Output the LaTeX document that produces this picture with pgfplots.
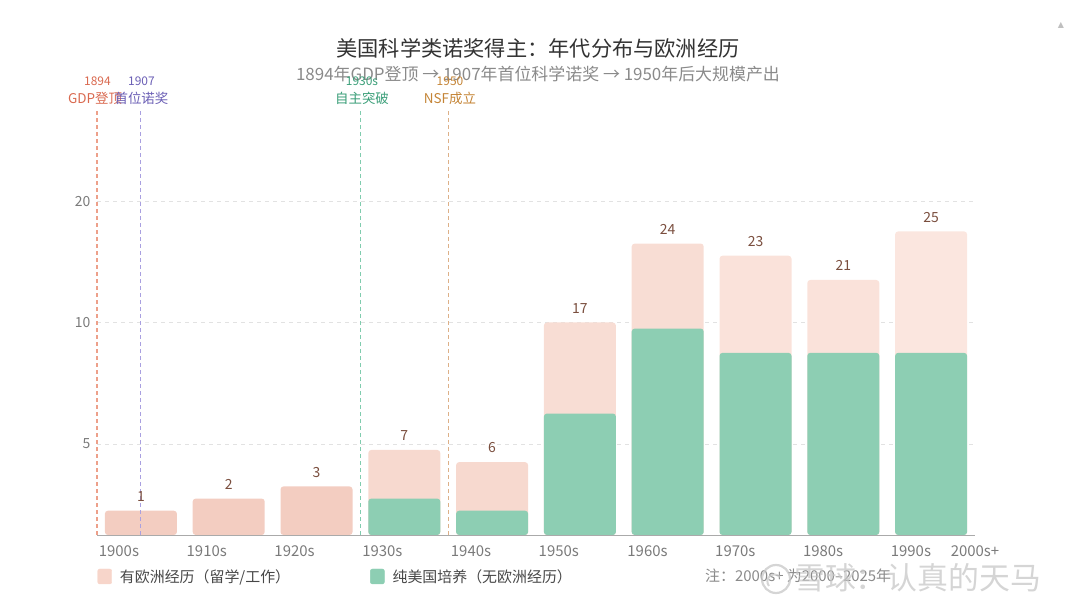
\documentclass[border=0pt]{standalone}
\usepackage{pgfplots}
\pgfplotsset{compat=1.18}
\usepackage{fontspec}
\setmainfont{Noto Sans CJK SC}
\newfontfamily\symfont{DejaVu Sans}
\definecolor{titlec}{HTML}{333333}
\definecolor{subc}{HTML}{8A8A8A}
\definecolor{tickc}{HTML}{7A7A7A}
\definecolor{gridc}{HTML}{E2E2E2}
\definecolor{axisc}{HTML}{AAAAAA}
\definecolor{greenbar}{HTML}{8DCEB3}
\definecolor{pinkA}{HTML}{F3CDC1}
\definecolor{pinkB}{HTML}{F7D9CF}
\definecolor{pinkC}{HTML}{F8DDD4}
\definecolor{pinkD}{HTML}{FAE2DA}
\definecolor{pinkE}{HTML}{FBE6DF}
\definecolor{pinkL}{HTML}{F7D5CA}
\definecolor{valc}{HTML}{7A4E3E}
\definecolor{lineR}{HTML}{EDA08A}
\definecolor{textR}{HTML}{D9694F}
\definecolor{lineP}{HTML}{A9A0E0}
\definecolor{textP}{HTML}{6B5FB5}
\definecolor{lineG}{HTML}{80CCAE}
\definecolor{textG}{HTML}{3A9E78}
\definecolor{lineO}{HTML}{DDB088}
\definecolor{textO}{HTML}{C48436}
\begin{document}
\begin{tikzpicture}[x=1bp,y=1bp]
\path[use as bounding box] (-140.9,535) rectangle (939.1,-76);
\node[font=\fontsize{21.3}{25}\selectfont, text=titlec] at (397.1,487) {美国科学类诺奖得主：年代分布与欧洲经历};
\node[font=\fontsize{17}{20}\selectfont, text=subc] at (397.1,461) {1894年GDP登顶 → 1907年首位科学诺奖 → 1950年后大规模产出};
\begin{axis}[
  at={(0,0)}, anchor=origin,
  scale only axis, width=878bp, height=425bp,
  xmin=-0.5, xmax=9.5, ymin=0, ymax=35,
  clip=false,
  axis x line*=bottom, axis y line*=left,
  y axis line style={draw=none},
  x axis line style={draw=axisc, line width=0.8bp},
  major tick length=0pt,
  ymajorgrids, grid style={dash pattern=on 4bp off 4bp, color=gridc, line width=0.8bp},
  ytick={7.5,17.5,27.5}, yticklabels={5,10,20},
  yticklabel style={font=\fontsize{14}{16}\selectfont, text=tickc, xshift=-3bp},
  xtick={-0.25,0.75,1.75,2.75,3.76,4.76,5.77,6.77,7.77,8.77,9.5},
  xticklabels={1900s,1910s,1920s,1930s,1940s,1950s,1960s,1970s,1980s,1990s,2000s+},
  xticklabel style={font=\fontsize{15}{18}\selectfont, text=tickc, anchor=north, yshift=-7bp},
  bar width=72bp,
  nodes near coords style={font=\fontsize{14}{16}\selectfont, text=valc, anchor=south, inner sep=0pt, yshift=9bp},
  legend style={at={(-0.003,-0.071)}, anchor=north west, draw=none, fill=none,
    font=\fontsize{15}{18}\selectfont, text=black!72, legend columns=2,
    /tikz/every even column/.append style={column sep=78bp}},
  legend cell align=left,
]
\addlegendimage{legend image code/.code={\fill[pinkL, rounded corners=2bp] (0bp,-7.5bp) rectangle (14bp,7.5bp); \path (20bp,0bp);}}
\addlegendentry{有欧洲经历（留学/工作）}
\addlegendimage{legend image code/.code={\fill[greenbar, rounded corners=2bp] (0bp,-7.5bp) rectangle (14bp,7.5bp); \path (20bp,0bp);}}
\addlegendentry{纯美国培养（无欧洲经历）}
% total heights (pink, drawn full), labels = decade totals
\addplot[ybar, bar shift=0pt, fill=pinkA, draw=none, rounded corners=3bp, forget plot,
  point meta=explicit symbolic, nodes near coords] coordinates {(0,2) [1] (1,3) [2] (2,4) [3]};
\addplot[ybar, bar shift=0pt, fill=pinkB, draw=none, rounded corners=3bp, forget plot,
  point meta=explicit symbolic, nodes near coords] coordinates {(3,7) [7] (4,6) [6]};
\addplot[ybar, bar shift=0pt, fill=pinkC, draw=none, rounded corners=3bp, forget plot,
  point meta=explicit symbolic, nodes near coords] coordinates {(5,17.5) [17] (6,24) [24]};
\addplot[ybar, bar shift=0pt, fill=pinkD, draw=none, rounded corners=3bp, forget plot,
  point meta=explicit symbolic, nodes near coords] coordinates {(7,23) [23] (8,21) [21]};
\addplot[ybar, bar shift=0pt, fill=pinkE, draw=none, rounded corners=3bp, forget plot,
  point meta=explicit symbolic, nodes near coords] coordinates {(9,25) [25]};
% US-only part
\addplot[ybar, bar shift=0pt, fill=greenbar, draw=none, rounded corners=3bp, forget plot]
  coordinates {(3,3) (4,2) (5,10) (6,17) (7,15) (8,15) (9,15)};
% event lines
\addplot[draw=lineR, line width=1.1bp, dash pattern=on 4bp off 3bp, forget plot] coordinates {(-0.5,0) (-0.5,35)};
\addplot[draw=lineP, line width=1.1bp, dash pattern=on 4bp off 3bp, forget plot] coordinates {(0,0) (0,35)};
\addplot[draw=lineG, line width=1.1bp, dash pattern=on 4bp off 3bp, forget plot] coordinates {(2.5,0) (2.5,35)};
\addplot[draw=lineO, line width=1.1bp, dash pattern=on 4bp off 3bp, forget plot] coordinates {(3.5,0) (3.5,35)};
\end{axis}
% event labels
\node[font=\fontsize{12}{14}\selectfont, text=textR] at (-43.4,454) {1894};
\node[font=\fontsize{13.5}{16}\selectfont, text=textR] at (-45.9,437) {GDP登顶};
\node[font=\fontsize{12}{14}\selectfont, text=textP] at (0.6,454) {1907};
\node[font=\fontsize{13.5}{16}\selectfont, text=textP] at (0.6,437) {首位诺奖};
\node[font=\fontsize{12}{14}\selectfont, text=textG] at (221.1,454) {1930s};
\node[font=\fontsize{13.5}{16}\selectfont, text=textG] at (221.1,437) {自主突破};
\node[font=\fontsize{12}{14}\selectfont, text=textO] at (309.1,454) {1950};
\node[font=\fontsize{13.5}{16}\selectfont, text=textO] at (309.1,437) {NSF成立};
% note
\node[font=\fontsize{15}{18}\selectfont, text=subc, anchor=west, inner sep=0pt] at (564.1,-41) {注：2000s+ 为2000–2025年};
% watermark
\begin{scope}[opacity=0.75]
\draw[black!22, line width=2.2bp] (635.1,-44) circle (14);
\draw[black!22, line width=2bp] (628.1,-51) arc (220:40:7);
\node[font=\fontsize{31}{36}\selectfont, text=black!22, anchor=west, inner sep=0pt] at (653.1,-43) {雪球：认真的天马};
\end{scope}
\node[font=\symfont\fontsize{8}{9}\selectfont, text=black!25] at (920.1,510) {▲};
\end{tikzpicture}
\end{document}
